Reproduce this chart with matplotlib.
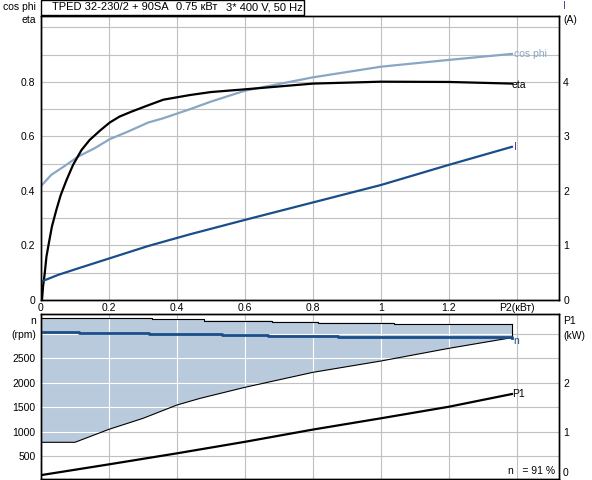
import numpy as np
import matplotlib.pyplot as plt
from matplotlib.patches import Polygon, Rectangle

plt.rcParams['font.family'] = ['Liberation Sans', 'DejaVu Sans']
plt.rcParams['font.size'] = 7.5

# --- данные ---
cos_x = [0, 0.03, 0.07, 0.109, 0.158, 0.202, 0.256, 0.315, 0.36, 0.438, 0.5, 0.6, 0.8,
         1.0, 1.2, 1.385]
cos_phi = [0.418, 0.459, 0.492, 0.526, 0.557, 0.590, 0.618, 0.651, 0.667, 0.700, 0.728,
           0.768, 0.817, 0.856, 0.881, 0.903]

eta_x = [0, 0.003, 0.006, 0.011, 0.016, 0.023, 0.032, 0.045, 0.058, 0.075, 0.094, 0.119,
         0.143, 0.173, 0.202, 0.231, 0.266, 0.31, 0.36, 0.438, 0.5, 0.6, 0.8, 1.0, 1.2, 1.385]
eta = [0.0, 0.0, 0.049, 0.098, 0.159, 0.208, 0.269, 0.330, 0.385, 0.440, 0.495, 0.550,
       0.587, 0.621, 0.651, 0.673, 0.691, 0.712, 0.735, 0.752, 0.763, 0.773, 0.794, 0.801,
       0.800, 0.794]

i_x = [0, 0.05, 0.109, 0.202, 0.315, 0.438, 0.6, 0.8, 1.0, 1.2, 1.385]
i_amp = [0.336, 0.46, 0.58, 0.765, 0.99, 1.205, 1.47, 1.79, 2.11, 2.48, 2.81]

n_x = [0, 0.112, 0.317, 0.533, 0.668, 0.874, 1.385]
n_rpm = [3040, 3018, 2996, 2975, 2955, 2935, 2918]

nmax_x = [0, 0.326, 0.48, 0.678, 0.815, 1.037, 1.385]
nmax = [3316, 3290, 3265, 3240, 3220, 3195, 3195]

nmin_x = [0, 0.1, 0.2, 0.3, 0.4, 0.468, 0.6, 0.8, 1.0, 1.2, 1.385]
nmin = [780, 780, 1045, 1269, 1541, 1677, 1902, 2208, 2439, 2698, 2915]

p1_x = [0, 0.2, 0.4, 0.6, 0.8, 1.0, 1.2, 1.385]
p1_kw = [0.11, 0.33, 0.555, 0.79, 1.04, 1.27, 1.506, 1.765]

x_ticks = [0, 0.2, 0.4, 0.6, 0.8, 1.0, 1.2, 1.4]
x_labels = ['0', '0.2', '0.4', '0.6', '0.8', '1', '1.2', 'P2(кВт)']

GRID = '#c0c0c0'
C_COS = '#8aa6c4'
C_I = '#1a4e8a'
C_FILL = '#b8cadb'

W, H = 592, 480


def box(l, t, r, b):
    return [l / W, 1 - b / H, (r - l) / W, (b - t) / H]


def steps(x, y):
    xs = np.repeat(x, 2)[1:]
    ys = np.repeat(y, 2)[:-1]
    return xs, ys


fig = plt.figure(figsize=(W / 100, H / 100), dpi=100)

# верхний график
ax = fig.add_axes(box(41, 16, 559, 300))
ax.set_xlim(0, 1.5235)
ax.set_ylim(0, 1.042)
ax.set_xticks(x_ticks)
ax.set_xticklabels(x_labels)
ax.set_yticks([0, 0.2, 0.4, 0.6, 0.8])
ax.set_yticklabels(['0', '0.2', '0.4', '0.6', '0.8'])
ax.set_yticks(np.arange(0.1, 1.05, 0.1), minor=True)
ax.grid(True, which='both', color=GRID, lw=0.8)
ax.set_axisbelow(True)
ax.tick_params(which='both', length=0)
ax.tick_params(axis='y', pad=4)
ax.tick_params(axis='x', pad=2.5)

ax.plot(cos_x, cos_phi, color=C_COS, lw=1.6)
ax.plot(eta_x, eta, color='black', lw=1.6)

axr = ax.twinx()
axr.set_ylim(0, 1.042 * 5)
axr.set_yticks([0, 1, 2, 3, 4])
axr.tick_params(length=0, pad=3)
axr.plot(i_x, i_amp, color=C_I, lw=1.6)

for a in (ax, axr):
    for s in a.spines.values():
        s.set_color('black')
        s.set_linewidth(1)

ax.text(1.39, 0.903, 'cos phi', color=C_COS, va='center', ha='left')
ax.text(1.385, 0.79, 'eta', color='black', va='center', ha='left')
axr.text(1.39, 2.81, 'I', color='#5b3a9a', va='center', ha='left')

fig.text(36 / W, 1 - 7 / H, 'cos phi', ha='right', va='center')
fig.text(36 / W, 1 - 20 / H, 'eta', ha='right', va='center')
fig.text(563 / W, 1 - 6 / H, 'I', ha='left', va='center', color='#5b3a9a')
fig.text(563 / W, 1 - 20 / H, '(A)', ha='left', va='center')

# заголовок в рамке
fig.patches.append(Rectangle((41 / W, 1 - 14.5 / H), (304 - 41) / W, 14.5 / H,
                             transform=fig.transFigure, facecolor='white',
                             edgecolor='black', lw=1))
for px, part in [(52, 'TPED 32-230/2 + 90SA'), (176, '0.75 кВт'), (226, '3* 400 V, 50 Hz')]:
    fig.text(px / W, 1 - 7.5 / H, part, ha='left', va='center', fontsize=8)

# нижний график
ax2 = fig.add_axes(box(41, 314, 559, 479))
ax2.set_xlim(0, 1.5235)
ax2.set_ylim(31, 3398)
ax2.set_xticks(x_ticks)
ax2.set_xticklabels([])
ax2.set_yticks([500, 1000, 1500, 2000, 2500])
ax2.set_yticks([3000], minor=True)
ax2.grid(True, which='both', color=GRID, lw=0.8)
ax2.set_axisbelow(True)
ax2.tick_params(which='both', length=0)
ax2.tick_params(axis='y', pad=4)

tx, ty = steps(nmax_x, nmax)
poly_x = list(tx) + nmin_x[::-1]
poly_y = list(ty) + nmin[::-1]
poly = Polygon(np.column_stack([poly_x, poly_y]), closed=True,
               facecolor=C_FILL, edgecolor='none', zorder=1)
ax2.add_patch(poly)

# белая сетка внутри заливки
for gx in x_ticks:
    ln = ax2.axvline(gx, color='white', lw=0.8, zorder=1.5)
    ln.set_clip_path(poly)
for gy in [500, 1000, 1500, 2000, 2500, 3000]:
    ln = ax2.axhline(gy, color='white', lw=0.8, zorder=1.5)
    ln.set_clip_path(poly)

ax2.plot(tx, ty, color='black', lw=0.8, zorder=2)
ax2.plot(nmin_x, nmin, color='black', lw=0.8, zorder=2)
ax2.plot([nmax_x[-1], nmin_x[-1]], [nmax[-1], nmin[-1]], color='black', lw=0.8, zorder=2)
nx, ny = steps(n_x, n_rpm)
ax2.plot(nx, ny, color=C_I, lw=2, zorder=3)
ax2.text(1.39, 2840, 'n', color=C_I, va='center', ha='left')

ax2r = ax2.twinx()
ax2r.set_ylim(0.031, 3.398)
ax2r.set_yticks([1, 2])
ax2r.tick_params(length=0, pad=3)
ax2r.plot(p1_x, p1_kw, color='black', lw=1.6)
ax2r.text(1.385, 1.765, 'P1', color='black', va='center', ha='left')

for a in (ax2, ax2r):
    for s in a.spines.values():
        s.set_color('black')
        s.set_linewidth(1)

fig.text(563 / W, 1 - 473 / H, '0', ha='left', va='center')
fig.text(36 / W, 1 - 321 / H, 'n', ha='right', va='center')
fig.text(36 / W, 1 - 335 / H, '(rpm)', ha='right', va='center')
fig.text(563 / W, 1 - 321 / H, 'P1', ha='left', va='center')
fig.text(563 / W, 1 - 336 / H, '(kW)', ha='left', va='center')
fig.text(555 / W, 1 - 471 / H, 'n   = 91 %', ha='right', va='center')

fig.savefig('out.png', dpi=100)
